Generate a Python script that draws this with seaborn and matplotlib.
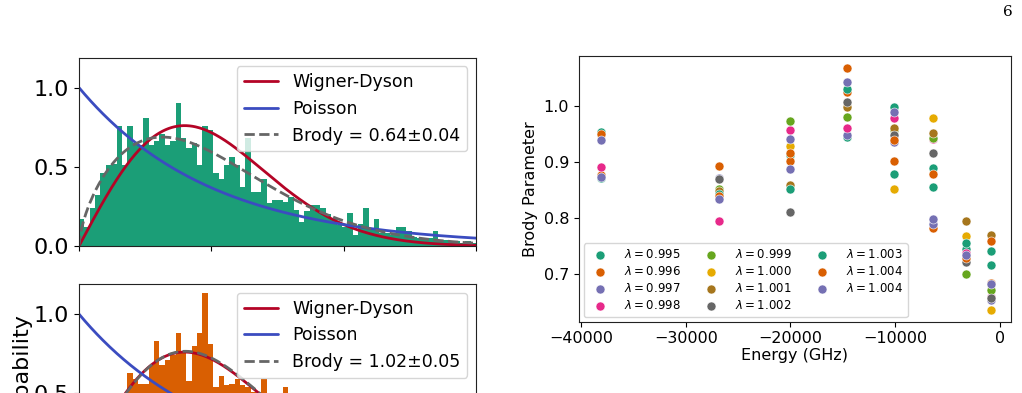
import numpy as np
import pandas as pd
import seaborn as sns
import matplotlib.pyplot as plt
from math import gamma

# spacing histograms (normalised), 74 bins over s = 0..3
n_bins = 74
hist_top = [0.17, 0.12, 0.24, 0.32, 0.46, 0.51, 0.52, 0.76, 0.51, 0.76,
            0.65, 0.64, 0.81, 0.64, 0.66, 0.71, 0.64, 0.66, 0.90, 0.68,
            0.62, 0.65, 0.51, 0.76, 0.73, 0.46, 0.42, 0.51, 0.56, 0.51,
            0.37, 0.68, 0.34, 0.34, 0.42, 0.27, 0.29, 0.29, 0.28, 0.31,
            0.23, 0.15, 0.22, 0.26, 0.26, 0.24, 0.20, 0.18, 0.13, 0.12,
            0.21, 0.07, 0.14, 0.24, 0.11, 0.17, 0.08, 0.08, 0.07, 0.12,
            0.12, 0.095, 0.06, 0.05, 0.05, 0.05, 0.095, 0.04, 0.04, 0.03,
            0.03, 0.02, 0.03, 0.02]
hist_bottom = [0.00, 0.03, 0.06, 0.10, 0.15, 0.21, 0.28, 0.35, 0.42, 0.63,
               0.59, 0.56, 0.56, 0.68, 0.83, 0.68, 0.71, 0.74, 0.88, 0.76,
               0.58, 0.80, 0.88, 1.13, 0.81, 0.54, 0.61, 0.55, 0.56, 0.59,
               0.55, 0.54, 0.51, 0.45, 0.59, 0.42, 0.40, 0.44, 0.54, 0.38,
               0.35, 0.33, 0.30, 0.28, 0.26, 0.22, 0.20, 0.18, 0.16, 0.14,
               0.12, 0.10, 0.09, 0.08, 0.06, 0.05, 0.05, 0.04, 0.03, 0.03,
               0.02, 0.02, 0.02, 0.01, 0.01, 0.01, 0.01, 0.0, 0.0, 0.0,
               0.0, 0.0, 0.0, 0.0]
brody_top, brody_top_err = 0.64, 0.04
brody_bottom, brody_bottom_err = 1.02, 0.05

# Brody parameter vs energy
energies = [-38100, -26840, -20065, -14600, -10143, -6390, -3275, -827]
energy_ticks = [-40000, -30000, -20000, -10000, 0]
lambda_labels = ['0.995', '0.996', '0.997', '0.998', '0.999', '1.000',
                 '1.001', '1.002', '1.003', '1.004', '1.004']
brody_vals = [
    [0.871, 0.846, 0.912, 0.944, 0.878, 0.856, 0.745, 0.716],
    [0.876, 0.893, 0.902, 1.024, 0.901, 0.782, 0.733, 0.684],
    [0.874, 0.871, 0.888, 0.948, 0.935, 0.789, 0.731, 0.655],
    [0.891, 0.794, 0.956, 0.960, 0.979, 0.940, 0.738, 0.659],
    [0.951, 0.851, 0.972, 0.980, 0.957, 0.942, 0.700, 0.672],
    [0.950, 0.836, 0.928, 1.000, 0.852, 0.979, 0.768, 0.637],
    [0.950, 0.848, 0.859, 0.998, 0.961, 0.952, 0.795, 0.770],
    [0.952, 0.870, 0.810, 1.006, 0.948, 0.916, 0.721, 0.657],
    [0.954, 0.842, 0.851, 1.030, 0.998, 0.889, 0.755, 0.742],
    [0.949, 0.840, 0.916, 1.067, 0.939, 0.878, 0.729, 0.760],
    [0.939, 0.834, 0.941, 1.043, 0.989, 0.799, 0.735, 0.682],
]

sns.set_style("ticks")
plt.rcParams['font.family'] = ['DejaVu Sans']
plt.rcParams['mathtext.fontset'] = 'dejavusans'
for key in ['text.color', 'axes.labelcolor', 'xtick.color', 'ytick.color']:
    plt.rcParams[key] = 'black'
plt.rcParams['axes.edgecolor'] = '#222222'

dark2 = sns.color_palette("Dark2", 8)
wd_color = '#b40426'
po_color = '#3b4cc0'

fig = plt.figure(figsize=(10.22, 3.93), dpi=100)
ax_top = fig.add_axes([0.0773, 0.374, 0.3885, 0.4796])
ax_bot = fig.add_axes([0.0773, -0.2022, 0.3885, 0.4796])
ax_r = fig.add_axes([0.5665, 0.1814, 0.4227, 0.676])

s = np.linspace(0, 3, 400)
bin_width = 3 / n_bins
centers = np.arange(n_bins) * bin_width + bin_width / 2


def brody(x, beta):
    b = gamma((beta + 2) / (beta + 1)) ** (beta + 1)
    return (beta + 1) * b * x ** beta * np.exp(-b * x ** (beta + 1))


for ax, heights, col, beta, err in [(ax_top, hist_top, dark2[0], brody_top, brody_top_err),
                                    (ax_bot, hist_bottom, dark2[1], brody_bottom, brody_bottom_err)]:
    df = pd.DataFrame({'s': centers, 'p': heights})
    sns.histplot(data=df, x='s', weights='p', bins=n_bins, binrange=(0, 3),
                 color=col, alpha=1, linewidth=0, ax=ax)
    sns.lineplot(x=s, y=np.pi / 2 * s * np.exp(-np.pi * s ** 2 / 4), color=wd_color,
                 lw=2, label='Wigner-Dyson', ax=ax)
    sns.lineplot(x=s, y=np.exp(-s), color=po_color, lw=2, label='Poisson', ax=ax)
    sns.lineplot(x=s, y=brody(s, beta), color='#666666', lw=2, ls='--',
                 label=f'Brody = {beta:.2f}±{err:.2f}', ax=ax)
    ax.set_xlim(0, 3)
    ax.set_ylim(0, 1.19)
    ax.set_xticks([0, 1, 2, 3])
    ax.set_xticklabels([])
    ax.set_yticks([0.0, 0.5, 1.0])
    ax.tick_params(axis='y', labelsize=16)
    ax.set_xlabel('')
    ax.set_ylabel('')
    ax.legend(loc='upper right', fontsize=12.5)

fig.text(0.02, 0.055, 'Probability', rotation=90, ha='center', va='center', fontsize=16)

for i, lab in enumerate(lambda_labels):
    sns.scatterplot(x=energies, y=brody_vals[i], color=dark2[i % 8], s=42,
                    edgecolor='white', linewidth=0.4,
                    label=r'$\lambda = ' + lab + '$', ax=ax_r)
ax_r.set_xlim(-40190, 1050)
ax_r.set_xticks(energy_ticks)
ax_r.set_xlabel('Energy (GHz)', fontsize=11.5, labelpad=1)
ax_r.set_ylabel('Brody Parameter', fontsize=11.5)
ax_r.tick_params(labelsize=11.5)
ax_r.legend(loc='lower left', ncol=3, fontsize=8.5, columnspacing=1.6,
            handletextpad=1.0, labelspacing=0.35, borderaxespad=0.4)

fig.text(1008 / 1022, 1 - 12 / 393, '6', ha='center', va='center', fontsize=11,
         family='DejaVu Serif')

fig.savefig('out.png', dpi=100)
